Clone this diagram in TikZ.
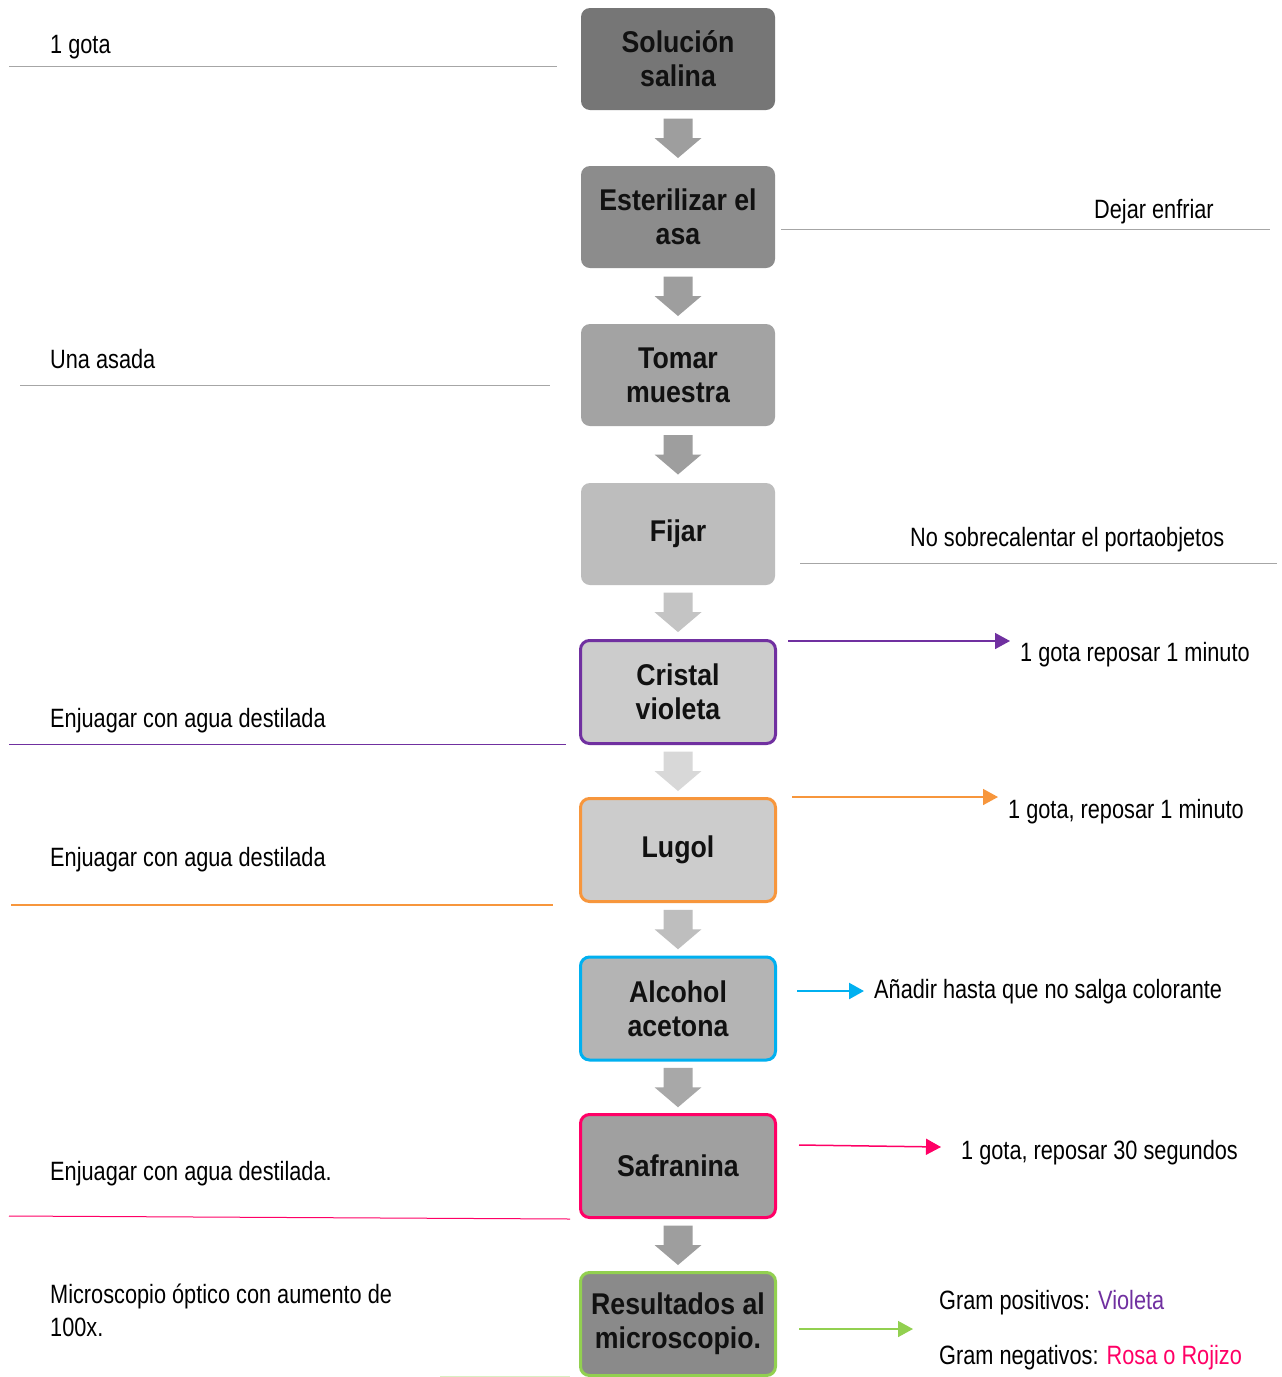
\documentclass[tikz,border=0pt]{standalone}
\usepackage{fontspec}
\setmainfont{Liberation Sans}[FakeStretch=0.82]
\newfontfamily\boxfont{Liberation Sans}[FakeStretch=0.89]
\usetikzlibrary{arrows.meta,calc}

\definecolor{rulegray}{RGB}{166,166,166}
\definecolor{violetc}{RGB}{112,48,160}
\definecolor{orangec}{RGB}{247,150,60}
\definecolor{cyanc}{RGB}{0,176,240}
\definecolor{pinkc}{RGB}{255,0,102}
\definecolor{greenc}{RGB}{146,208,80}
\definecolor{fillA}{RGB}{118,118,118}
\definecolor{fillB}{RGB}{140,140,140}
\definecolor{fillC}{RGB}{163,163,163}
\definecolor{fillD}{RGB}{189,189,189}
\definecolor{fillE}{RGB}{204,204,204}
\definecolor{fillF}{RGB}{180,180,180}
\definecolor{fillG}{RGB}{160,160,160}
\definecolor{fillH}{RGB}{138,138,138}
\definecolor{arrA}{RGB}{158,158,158}
\definecolor{arrB}{RGB}{196,196,196}
\definecolor{arrC}{RGB}{216,216,216}
\definecolor{arrD}{RGB}{190,190,190}
\definecolor{arrE}{RGB}{168,168,168}
\definecolor{boxtext}{RGB}{17,17,17}

\tikzset{
  stepbox/.style={rounded corners=9pt, minimum width=194pt, minimum height=102pt,
    inner sep=0pt, align=center, text=boxtext,
    font=\boxfont\bfseries\fontsize{30}{34}\selectfont},
  ringbox/.style={stepbox, line width=3pt, minimum width=195pt, minimum height=103pt},
  note/.style={anchor=base west, inner sep=0pt, font=\fontsize{26.5}{33}\selectfont},
  rule/.style={line width=1pt, draw=rulegray},
  sidearrow/.style={line width=1.5pt, -{Triangle[length=15pt,width=16pt]}},
  blockdown/.pic={\fill[#1] (-14.5,-19.5) -- (14.5,-19.5) -- (14.5,0) -- (23.5,0)
     -- (0,20) -- (-23.5,0) -- (-14.5,0) -- cycle;}
}

\begin{document}
\begin{tikzpicture}[x=1pt,y=-1pt]
\fill[white] (0,0) rectangle (1282,1377);
\useasboundingbox (0,0) rectangle (1282,1377);

% process column
\node[stepbox, fill=fillA] (b1) at (678,59)   {Solución\\salina};
\node[stepbox, fill=fillB] (b2) at (678,217)  {Esterilizar el\\asa};
\node[stepbox, fill=fillC] (b3) at (678,375)  {Tomar\\muestra};
\node[stepbox, fill=fillD] (b4) at (678,534)  {Fijar};
\node[ringbox, fill=fillE, draw=violetc] (b5) at (678,692)    {Cristal\\violeta};
\node[ringbox, fill=fillE, draw=orangec] (b6) at (678,850)    {Lugol};
\node[ringbox, fill=fillF, draw=cyanc]   (b7) at (678,1008.5) {Alcohol\\acetona};
\node[ringbox, fill=fillG, draw=pinkc]   (b8) at (678,1166)   {Safranina};
\node[ringbox, fill=fillH, draw=greenc]  (b9) at (678,1324)   {Resultados al\\microscopio.};

% block arrows between steps
\pic at ($(b1.south)!.5!(b2.north)$) {blockdown=arrA};
\pic at ($(b2.south)!.5!(b3.north)$) {blockdown=arrA};
\pic at ($(b3.south)!.5!(b4.north)$) {blockdown=arrA};
\pic at ($(b4.south)!.5!(b5.north)$) {blockdown=arrB};
\pic at ($(b5.south)!.5!(b6.north)$) {blockdown=arrC};
\pic at ($(b6.south)!.5!(b7.north)$) {blockdown=arrD};
\pic at ($(b7.south)!.5!(b8.north)$) {blockdown=arrE};
\pic at ($(b8.south)!.5!(b9.north)$) {blockdown=arrA};

% notes on the left
\node[note] (l1) at (50,53)   {1 gota};
\node[note] (l2) at (50,368)  {Una asada};
\node[note] (l3) at (50,727)  {Enjuagar con agua destilada};
\node[note] (l4) at (50,866)  {Enjuagar con agua destilada};
\node[note] (l5) at (50,1180) {Enjuagar con agua destilada.};
\node[note] (l6) at (50,1303) {Microscopio óptico con aumento de};
\node[note] (l7) at (50,1336) {100x.};

\coordinate (r1a) at (9,66);     \coordinate (r1b) at (557,66);
\coordinate (r2a) at (20,385);   \coordinate (r2b) at (550,385);
\coordinate (r3a) at (9,744);    \coordinate (r3b) at (566,744);
\coordinate (r4a) at (11,905);   \coordinate (r4b) at (553,905);
\coordinate (r5a) at (9,1216);   \coordinate (r5b) at (570,1219);
\coordinate (r6a) at (440,1376); \coordinate (r6b) at (570,1376);
\draw[rule] (r1a) -- (r1b);
\draw[rule] (r2a) -- (r2b);
\draw[rule, draw=violetc] (r3a) -- (r3b);
\draw[rule, draw=orangec, line width=1.2pt] (r4a) -- (r4b);
\draw[rule, draw=pinkc] (r5a) -- (r5b);
\draw[rule, draw=greenc!35] (r6a) -- (r6b);

% notes on the right
\node[note] (n1) at (1094,218) {Dejar enfriar};
\node[note] (n2) at (910,546)  {No sobrecalentar el portaobjetos};
\node[note] (n3) at (1020,661) {1 gota reposar 1 minuto};
\node[note] (n4) at (1008,818) {1 gota, reposar 1 minuto};
\node[note] (n5) at (874,998)  {Añadir hasta que no salga colorante};
\node[note] (n6) at (961,1159) {1 gota, reposar 30 segundos};
\node[note] (n7) at (939,1309) {Gram positivos: \textcolor{violetc}{Violeta}};
\node[note] (n8) at (939,1364) {Gram negativos: \textcolor{pinkc}{Rosa o Rojizo}};

\coordinate (q1a) at (781,229); \coordinate (q1b) at (1270,229);
\coordinate (q2a) at (800,563); \coordinate (q2b) at (1277,563);
\draw[rule] (q1a) -- (q1b);
\draw[rule] (q2a) -- (q2b);

\coordinate (s5a) at (788,641);  \coordinate (s5b) at (1010,641);
\coordinate (s6a) at (792,797);  \coordinate (s6b) at (998,797);
\coordinate (s7a) at (797,991);  \coordinate (s7b) at (864,991);
\coordinate (s8a) at (799,1145); \coordinate (s8b) at (941,1147);
\coordinate (s9a) at (799,1329); \coordinate (s9b) at (913,1329);
\draw[sidearrow, violetc] (s5a) -- (s5b);
\draw[sidearrow, orangec] (s6a) -- (s6b);
\draw[sidearrow, cyanc, line width=2.5pt] (s7a) -- (s7b);
\draw[sidearrow, pinkc] (s8a) -- (s8b);
\draw[sidearrow, greenc] (s9a) -- (s9b);
\end{tikzpicture}
\end{document}
